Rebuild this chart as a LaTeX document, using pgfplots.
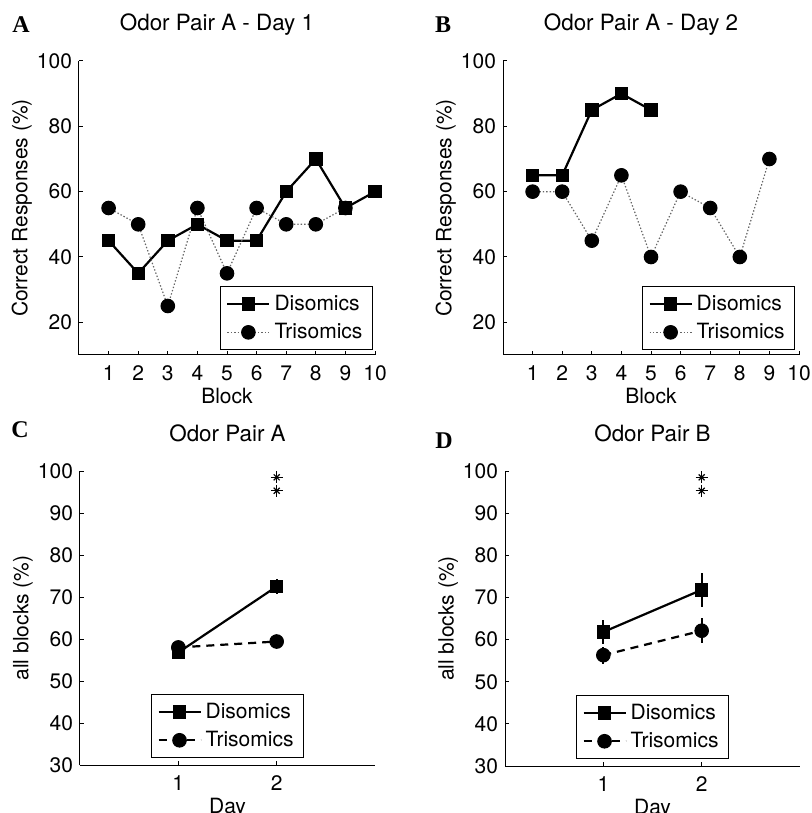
\documentclass[border=0pt]{standalone}
\usepackage{fontspec}
\setmainfont{TeX Gyre Heros}
\newfontfamily\letterfont{Liberation Serif}
\usepackage{pgfplots}
\pgfplotsset{compat=1.18}

\newcommand{\figfont}{\fontsize{10.5}{12}\selectfont}

\pgfplotsset{
  panel/.style={
    scale only axis, anchor=south west,
    axis lines*=left,
    axis line style={line width=0.5pt, -},
    tick align=inside, major tick length=2pt,
    tick style={black, line width=0.5pt},
    font=\figfont,
    /pgf/number format/assume math mode=true,
    ticklabel style={font=\figfont},
    xticklabel style={yshift=-2pt},
    title style={at={(axis description cs:0.5,1)}, anchor=base, yshift=9pt, inner sep=0pt,
      font=\fontsize{11.2}{13}\selectfont},
    xlabel style={at={(axis description cs:0.5,0)}, anchor=north, yshift=-16.5pt, inner sep=0pt},
    ylabel style={at={(axis description cs:-0.193,0.5)}, anchor=center, inner sep=0pt},
    clip=false,
    legend cell align=left,
    legend style={draw=black, line width=0.5pt, font=\figfont,
      inner xsep=3pt, inner ysep=2pt, row sep=1pt},
    legend image code/.code={
      \draw[mark repeat=2, mark phase=2, #1] plot coordinates {(0pt,0pt) (10.5pt,0pt) (21pt,0pt)};
    },
  },
  dis/.style={black, line width=1.1pt, mark=square*,
    mark options={solid, line width=0.5pt, fill=black}, mark size=3.1pt},
  tri/.style={black!60, line width=0.6pt, dash pattern=on 0.7pt off 1pt, mark=*,
    mark options={solid, draw=black, fill=black, line width=0.5pt}, mark size=3.4pt},
  trid/.style={black, line width=1.1pt, dash pattern=on 4pt off 3pt, mark=*,
    mark options={solid, line width=0.5pt, fill=black}, mark size=3.4pt},
  ebar/.style={error bars/.cd, y dir=both, y explicit, error mark=none,
    error bar style={line width=1pt, solid, black}},
  starp/.style={only marks, mark=+, mark size=3pt, line width=0.6pt, forget plot},
  starx/.style={only marks, mark=x, mark size=2.1pt, line width=0.6pt, forget plot},
}

\begin{document}
\begin{tikzpicture}
\useasboundingbox (0pt,0pt) rectangle (405.5pt,406.5pt);

% A
\begin{axis}[panel, at={(39.5pt,229pt)}, width=148pt, height=147pt,
  xmin=0, xmax=10, ymin=10, ymax=100,
  xtick={1,2,...,10}, ytick={20,40,60,80,100},
  title={Odor Pair A - Day 1}, title style={xshift=-5pt},
  xlabel={Block}, ylabel={Correct Responses (\%)},
  legend style={at={(axis description cs:0.993,0.017)}, anchor=south east}]
\addplot[dis] coordinates {(1,45)(2,35)(3,45)(4,50)(5,45)(6,45)(7,60)(8,70)(9,55)(10,60)};
\addplot[tri] coordinates {(1,55)(2,50)(3,25)(4,55)(5,35)(6,55)(7,50)(8,50)(9,55)};
\legend{Disomics, Trisomics}
\end{axis}

% B
\begin{axis}[panel, at={(251.5pt,229pt)}, width=148pt, height=147pt,
  xmin=0, xmax=10, ymin=10, ymax=100,
  xtick={1,2,...,10}, ytick={20,40,60,80,100},
  title={Odor Pair A - Day 2}, title style={xshift=-5pt},
  xlabel={Block}, ylabel={Correct Responses (\%)},
  legend style={at={(axis description cs:0.987,0.017)}, anchor=south east}]
\addplot[dis] coordinates {(1,65)(2,65)(3,85)(4,90)(5,85)};
\addplot[tri] coordinates {(1,60)(2,60)(3,45)(4,65)(5,40)(6,60)(7,55)(8,40)(9,70)};
\legend{Disomics, Trisomics}
\end{axis}

% C
\begin{axis}[panel, at={(40pt,24pt)}, width=147.5pt, height=147pt,
  xmin=0, xmax=3, ymin=30, ymax=100,
  xtick={1,2}, ytick={30,40,...,100},
  title={Odor Pair A},
  xlabel={Day}, ylabel={all blocks (\%)},
  legend style={at={(axis description cs:0.5,0.024)}, anchor=south}]
\addplot[dis, ebar] coordinates {(1,56.8) +- (0,1.5) (2,72.5) +- (0,1.8)};
\addplot[trid, ebar] coordinates {(1,58) +- (0,1.5) (2,59.4) +- (0,1.5)};
\addplot[starp] coordinates {(2,98.5)(2,95.3)};
\addplot[starx] coordinates {(2,98.5)(2,95.3)};
\legend{Disomics, Trisomics}
\end{axis}

% D
\begin{axis}[panel, at={(252.5pt,23.5pt)}, width=147.5pt, height=147.5pt,
  xmin=0, xmax=3, ymin=30, ymax=100,
  xtick={1,2}, ytick={30,40,...,100},
  title={Odor Pair B},
  xlabel={Day}, ylabel={all blocks (\%)},
  legend style={at={(axis description cs:0.5,0.024)}, anchor=south}]
\addplot[dis, ebar] coordinates {(1,61.8) +- (0,2.8) (2,71.8) +- (0,4)};
\addplot[trid, ebar] coordinates {(1,56.3) +- (0,2) (2,62.1) +- (0,3)};
\addplot[starp] coordinates {(2,98.5)(2,95.3)};
\addplot[starx] coordinates {(2,98.5)(2,95.3)};
\legend{Disomics, Trisomics}
\end{axis}

\node[inner sep=0pt, font=\letterfont\bfseries\fontsize{12}{14}\selectfont] at (10.5pt,394pt) {A};
\node[inner sep=0pt, font=\letterfont\bfseries\fontsize{12}{14}\selectfont] at (221.5pt,394pt) {B};
\node[inner sep=0pt, font=\letterfont\bfseries\fontsize{12}{14}\selectfont] at (10pt,191.5pt) {C};
\node[inner sep=0pt, font=\letterfont\bfseries\fontsize{12}{14}\selectfont] at (222pt,186pt) {D};
\end{tikzpicture}
\end{document}
